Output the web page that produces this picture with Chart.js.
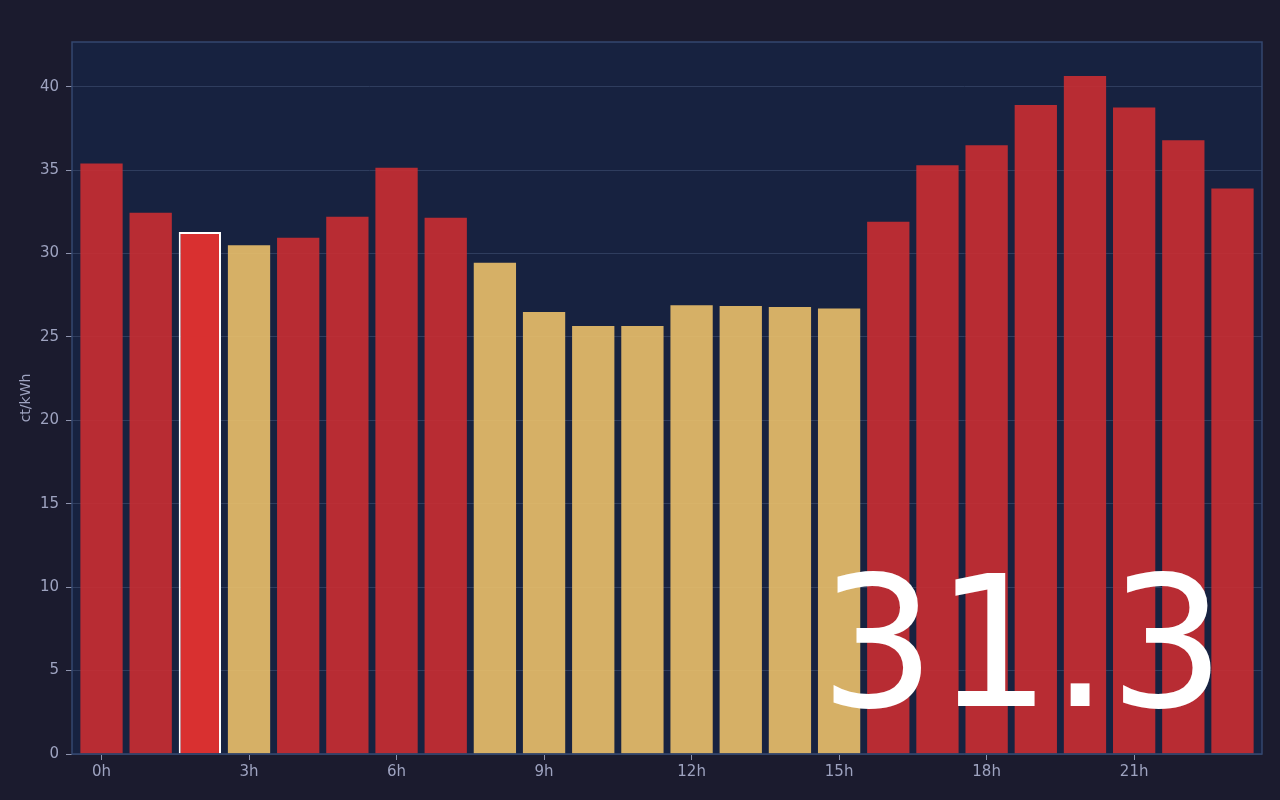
<!DOCTYPE html>
<html>
<head>
<meta charset="utf-8">
<script src="https://cdn.jsdelivr.net/npm/chart.js@4.4.1/dist/chart.umd.min.js"></script>
<style>
  html, body { margin:0; padding:0; background:#1b1b2e; width:1280px; height:800px; overflow:hidden; }
  #wrap { position:relative; width:1280px; height:800px; }
  canvas { display:block; }
  #big { position:absolute; right:55px; bottom:51px; font-family:"DejaVu Sans", sans-serif; font-size:182px; color:#ffffff; line-height:normal; pointer-events:none; }
</style>
</head>
<body>
<div id="wrap">
  <canvas id="c" width="1280" height="800"></canvas>
  <div id="big">31.3</div>
</div>
<script>
const hours = ["0h","1h","2h","3h","4h","5h","6h","7h","8h","9h","10h","11h","12h","13h","14h","15h","16h","17h","18h","19h","20h","21h","22h","23h"];
const prices = [35.4, 32.45, 31.3, 30.5, 30.95, 32.2, 35.15, 32.15, 29.45, 26.5, 25.65, 25.65, 26.9, 26.85, 26.8, 26.7, 31.9, 35.3, 36.5, 38.9, 40.65, 38.75, 36.8, 33.9];
const currentHour = 2;
const cheapLimit = 30.7;
const yTitle = "ct/kWh";

const barColors = prices.map((v, i) => i === currentHour ? "rgb(217,48,48)" : (v < cheapLimit ? "rgba(235,192,106,0.9)" : "rgba(202,46,50,0.9)"));
const borderColors = prices.map((v, i) => i === currentHour ? "#ffffff" : "rgba(0,0,0,0)");
const borderWidths = prices.map((v, i) => i === currentHour ? 2 : 0);

const areaPlugin = {
  id: "area",
  beforeDraw(chart) {
    const {ctx, chartArea:a} = chart;
    ctx.save();
    ctx.fillStyle = "#172240";
    ctx.fillRect(a.left, a.top, a.right - a.left, a.bottom - a.top);
    ctx.restore();
  },
  afterDraw(chart) {
    const {ctx, chartArea:a} = chart;
    ctx.save();
    ctx.strokeStyle = "#34476f";
    ctx.lineWidth = 1.5;
    ctx.strokeRect(a.left, a.top, a.right - a.left, a.bottom - a.top);
    ctx.restore();
  }
};

Chart.defaults.font.family = "'DejaVu Sans', sans-serif";
new Chart(document.getElementById("c"), {
  type: "bar",
  data: {
    datasets: [{
      data: prices.map((v, i) => ({ x: i, y: v })),
      backgroundColor: barColors,
      borderColor: borderColors,
      borderWidth: borderWidths,
      barPercentage: 0.86,
      categoryPercentage: 1.0
    }]
  },
  options: {
    responsive: false,
    animation: false,
    devicePixelRatio: 1,
    layout: { padding: { left: 0, top: 42, right: 18, bottom: 0 } },
    plugins: { legend: { display: false }, tooltip: { enabled: false } },
    scales: {
      x: {
        type: "linear",
        min: -0.6,
        max: hours.length - 0.4,
        offset: false,
        grid: { display: true, drawOnChartArea: false, color: "#8e93ad", tickLength: 6, offset: false },
        border: { display: false },
        ticks: {
          color: "#9ea3c0", font: { size: 15 }, padding: 3, maxRotation: 0,
          callback: function(v) { return hours[v]; }
        },
        afterBuildTicks: s => { s.ticks = hours.map((h, i) => ({ value: i })).filter(t => t.value % 3 === 0); },
        afterFit: s => { s.height = 46; }
      },
      y: {
        min: 0,
        max: Math.max(...prices) * 1.05,
        grid: { color: "#2f3d5e", tickLength: 6, drawTicks: true, tickColor: "#8e93ad" },
        border: { display: false },
        ticks: { stepSize: 5, color: "#9ea3c0", font: { size: 15 }, padding: 7 },
        afterBuildTicks: s => { s.ticks = s.ticks.filter(t => t.value % 5 === 0); },
        title: { display: true, text: yTitle, color: "#9ea3c0", font: { size: 14 }, padding: { top: 18, bottom: 0 } },
        afterFit: s => { s.width = 72; }
      }
    }
  },
  plugins: [areaPlugin]
});
</script>
</body>
</html>
